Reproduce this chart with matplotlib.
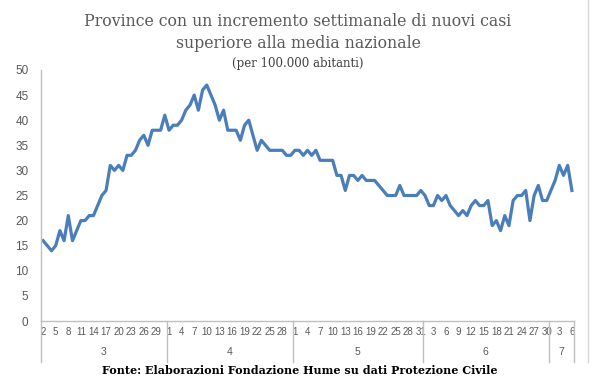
import matplotlib.pyplot as plt
import matplotlib.transforms as mtransforms

# daily values, 2 March -> 6 July
values = [16, 15, 14, 15, 18, 16, 21, 16, 18, 20, 20, 21, 21, 23, 25, 26, 31, 30, 31, 30,
          33, 33, 34, 36, 37, 35, 38, 38, 38, 41, 38, 39, 39, 40, 42, 43, 45, 42, 46, 47,
          45, 43, 40, 42, 38, 38, 38, 36, 39, 40, 37, 34, 36, 35, 34, 34, 34, 34, 33, 33,
          34, 34, 33, 34, 33, 34, 32, 32, 32, 32, 29, 29, 26, 29, 29, 28, 29, 28, 28, 28,
          27, 26, 25, 25, 25, 27, 25, 25, 25, 25, 26, 25, 23, 23, 25, 24, 25, 23, 22, 21,
          22, 21, 23, 24, 23, 23, 24, 19, 20, 18, 21, 19, 24, 25, 25, 26, 20, 25, 27, 24,
          24, 26, 28, 31, 29, 31, 26]

months = ['3', '4', '5', '6', '7']
first_day = [2, 1, 1, 1, 1]
last_day = [31, 30, 31, 30, 6]

days = []
month_start = []
for m, a, b in zip(months, first_day, last_day):
    month_start.append(len(days))
    days += list(range(a, b + 1))
month_start.append(len(days))

W, H = 597, 385
fig = plt.figure(figsize=(W / 100, H / 100), dpi=100)
ax = fig.add_axes([41 / W, 1 - 321 / H, 533 / W, 251 / H])

blue = '#4a7ebb'
grey = '#595959'
ax.plot(range(len(values)), values, color=blue, linewidth=2.3, solid_joinstyle='round')

ax.set_xlim(-0.5, len(values) - 0.5)
ax.set_ylim(0, 50)
ax.set_yticks(range(0, 51, 5))
ax.set_xticks(range(0, len(days), 3))
ax.set_xticklabels([str(d) for d in days[::3]])

for s in ['top', 'right']:
    ax.spines[s].set_visible(False)
for s in ['left', 'bottom']:
    ax.spines[s].set_color('#bfbfbf')
    ax.spines[s].set_linewidth(1)

ax.tick_params(axis='y', length=0, pad=9, labelsize=8.5, labelcolor=grey)
ax.tick_params(axis='x', length=0, pad=4, labelsize=7, labelcolor=grey)
for lab in ax.get_xticklabels() + ax.get_yticklabels():
    lab.set_fontfamily('Liberation Sans')

# month groups under the axis
trans = mtransforms.blended_transform_factory(ax.transData, ax.transAxes)
for k in month_start:
    ax.plot([k - 0.5, k - 0.5], [0, -41 / 251], transform=trans, color='#bfbfbf',
            linewidth=1, clip_on=False)
for i, m in enumerate(months):
    c = (month_start[i] + month_start[i + 1] - 1) / 2
    ax.text(c, -31 / 251, m, transform=trans, ha='center', va='center',
            fontsize=7.5, color=grey, family='Liberation Sans')

# chart border on the right
fig.add_artist(plt.Line2D([588 / W, 588 / W], [1 - 362 / H, 1], color='#d9d9d9', linewidth=1))

fig.text(298 / W, 1 - 21 / H, 'Province con un incremento settimanale di nuovi casi',
         ha='center', va='center', fontsize=11.3, color=grey, family='DejaVu Serif')
fig.text(298 / W, 1 - 44 / H, 'superiore alla media nazionale',
         ha='center', va='center', fontsize=11.3, color=grey, family='DejaVu Serif')
fig.text(298 / W, 1 - 63 / H, '(per 100.000 abitanti)',
         ha='center', va='center', fontsize=8.5, color='#404040', family='DejaVu Serif')

fig.text(300 / W, 1 - 370 / H, 'Fonte: Elaborazioni Fondazione Hume su dati Protezione Civile',
         ha='center', va='center', fontsize=8, color='black', weight='bold', family='DejaVu Serif')

plt.savefig('out.png', dpi=100)
